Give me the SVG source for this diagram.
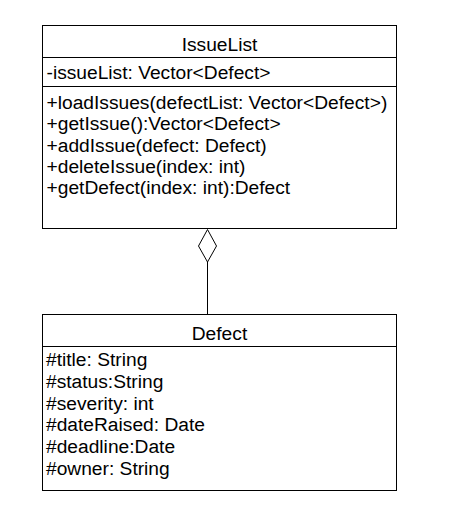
<svg xmlns="http://www.w3.org/2000/svg" width="453" height="518" viewBox="0 0 453 518">
<style>
.box{fill:#fff;stroke:#000;stroke-width:1}
.sep{stroke:#000;stroke-width:1;fill:none}
text{font-family:"Liberation Sans",Arial,sans-serif;font-size:19.2px;fill:#000}
.title{text-anchor:middle}
.conn{stroke:#000;stroke-width:1;fill:none}
</style>
<rect width="453" height="518" fill="#fff"/>
<g id="IssueList">
<rect class="box" x="42.5" y="25.5" width="354" height="203"/>
<line class="sep" x1="42.5" y1="57.5" x2="396.5" y2="57.5"/>
<line class="sep" x1="42.5" y1="86.5" x2="396.5" y2="86.5"/>
<text class="title" x="219.5" y="51">IssueList</text>
<text x="46.5" y="79">-issueList: Vector&lt;Defect&gt;</text>
<text x="46.5" y="109">+loadIssues(defectList: Vector&lt;Defect&gt;)</text>
<text x="46.5" y="130.3">+getIssue():Vector&lt;Defect&gt;</text>
<text x="46.5" y="151.6">+addIssue(defect: Defect)</text>
<text x="46.5" y="172.9">+deleteIssue(index: int)</text>
<text x="46.5" y="194.2">+getDefect(index: int):Defect</text>
</g>
<g id="Defect">
<rect class="box" x="42.5" y="314.5" width="354" height="176"/>
<line class="sep" x1="42.5" y1="346.5" x2="396.5" y2="346.5"/>
<text class="title" x="219.5" y="339.5">Defect</text>
<text x="46" y="366">#title: String</text>
<text x="46" y="387.8">#status:String</text>
<text x="46" y="409.6">#severity: int</text>
<text x="46" y="431.4">#dateRaised: Date</text>
<text x="46" y="453.2">#deadline:Date</text>
<text x="46" y="475">#owner: String</text>
</g>
<g id="connectors">
<path class="conn" d="M207.5,262 L207.5,314.5"/>
<path class="conn" d="M207.5,229.5 L216.5,246 L207.5,262 L198.5,246 Z" style="fill:#fff"/>
</g>
</svg>
